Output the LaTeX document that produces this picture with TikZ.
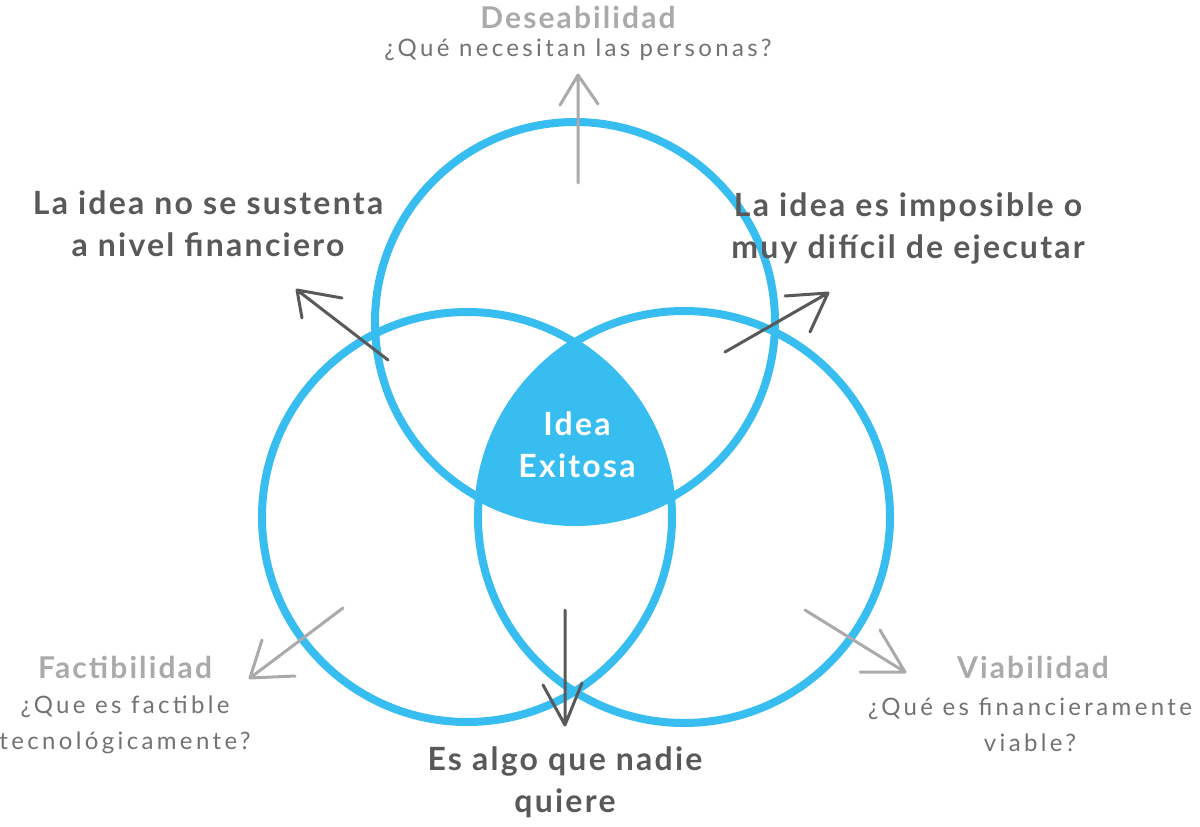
\documentclass[tikz,border=0pt]{standalone}
\usepackage{fontspec}
\setmainfont{Lato}
\newfontfamily\wideb[LetterSpace=7]{Lato}
\newfontfamily\widet[LetterSpace=14]{Lato}
\definecolor{vcyan}{HTML}{38BDF0}
\definecolor{dgray}{HTML}{595959}
\definecolor{lgray}{HTML}{AAAAAA}
\begin{document}
\begin{tikzpicture}[x=1pt,y=-1pt,
  ring/.style={draw=vcyan,line width=8pt},
  darr/.style={draw=dgray,line width=3pt,line cap=round,line join=round},
  larr/.style={draw=lgray,line width=3pt,line cap=round,line join=round},
  bigt/.style={font=\wideb\bfseries\fontsize{32}{42}\selectfont,text=dgray,align=center},
  ttl/.style={font=\wideb\bfseries\fontsize{30}{32}\selectfont,text=lgray},
  sub/.style={font=\widet\fontsize{24}{36}\selectfont,text=dgray!85,align=center}]
\useasboundingbox (0,0) rectangle (1200,827);
\coordinate (T) at (575,322);
\coordinate (L) at (467,517);
\coordinate (R) at (684,517);
\begin{scope}
\clip (T) circle (200);
\clip (L) circle (205);
\fill[vcyan] (R) circle (206);
\end{scope}
\draw[ring] (T) circle (200);
\draw[ring] (L) circle (205);
\draw[ring] (R) circle (206);
% arrows
\coordinate (a1) at (578,183); \coordinate (a1h) at (578,75);
\draw[larr] (a1) -- (a1h) (560,105) -- (a1h) -- (598,104);
\coordinate (a2) at (388,360); \coordinate (a2h) at (297,290);
\draw[darr] (a2) -- (a2h) (302,318) -- (a2h) -- (342,298);
\coordinate (a3) at (725,352); \coordinate (a3h) at (828,293);
\draw[darr] (a3) -- (a3h) (785,296) -- (a3h) -- (810,332);
\coordinate (a4) at (565,610); \coordinate (a4h) at (565,725);
\draw[darr] (a4) -- (a4h) (543,685) -- (a4h) -- (582,683);
\coordinate (a5) at (343,608); \coordinate (a5h) at (250,678);
\draw[larr] (a5) -- (a5h) (262,640) -- (a5h) -- (295,676);
\coordinate (a6) at (805,610); \coordinate (a6h) at (905,672);
\draw[larr] (a6) -- (a6h) (880,630) -- (a6h) -- (860,672);
% texts
\node[ttl] (des) at (578,17) {Deseabilidad};
\node[sub] (desq) at (578,50) {¿Qué necesitan las personas?};
\node[bigt] (fin) at (208,224) {La idea no se sustenta\\a nivel financiero};
\node[bigt] (eje) at (908,228) {La idea es imposible o\\muy difícil de ejecutar};
\node[bigt,text=white] (idea) at (577,445) {Idea\\Exitosa};
\node[ttl] (fac) at (125,667) {Factibilidad};
\node[sub] (facq) at (125,725) {¿Que es factible\\tecnológicamente?};
\node[ttl] (via) at (1033,667) {Viabilidad};
\node[sub] (viaq) at (1030,725) {¿Qué es financieramente\\viable?};
\node[bigt] (nad) at (565,782) {Es algo que nadie\\quiere};
\end{tikzpicture}
\end{document}
